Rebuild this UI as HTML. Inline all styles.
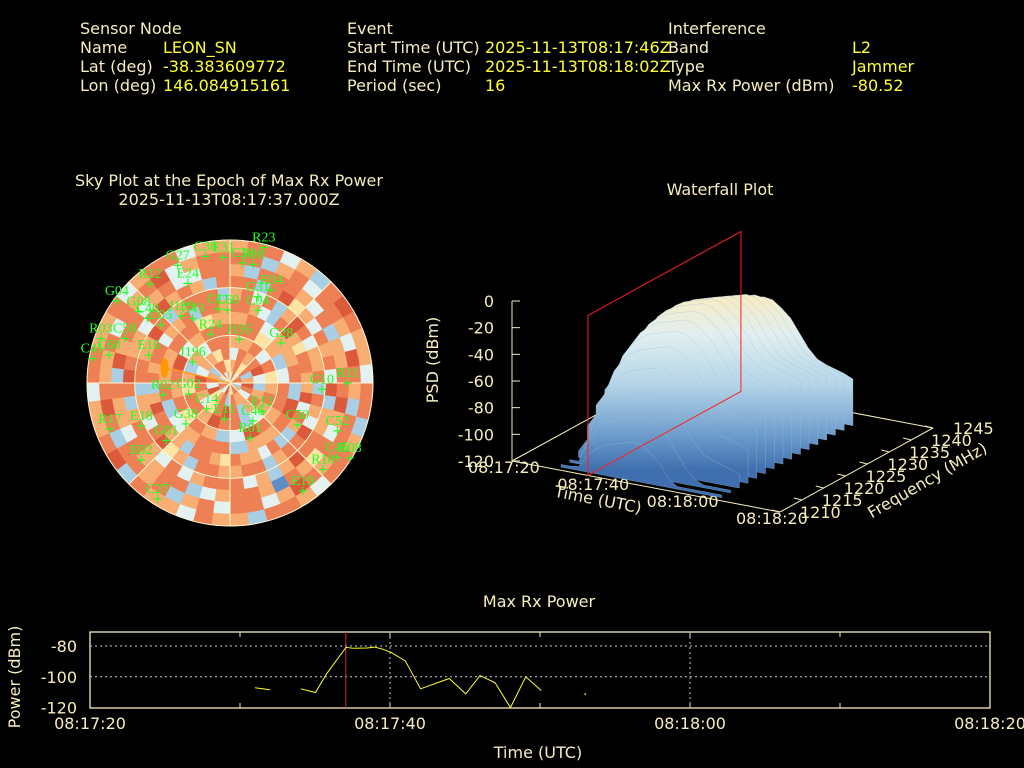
<!DOCTYPE html>
<html><head><meta charset="utf-8"><style>
html,body{margin:0;padding:0;background:#000;}
svg{display:block;font-family:"DejaVu Sans","Liberation Sans",sans-serif;}
.lb{fill:#f5eebb;font-size:16px;}
.vl{fill:#ffff33;font-size:16px;}
.tk{fill:#f5eebb;font-size:16px;}
.sat{fill:#22ff22;font-family:"Liberation Serif","DejaVu Serif",serif;font-size:14px;text-anchor:middle;}
</style></head><body>
<svg id="root" width="1024" height="768" viewBox="0 0 1024 768">
<defs>
<linearGradient id="surfGrad" gradientUnits="userSpaceOnUse" x1="0" y1="300" x2="0" y2="470">
<stop offset="0" stop-color="#f6ecc8"/><stop offset="0.2" stop-color="#e2eff0"/><stop offset="0.5" stop-color="#b4d4e8"/><stop offset="0.8" stop-color="#6c9bcb"/><stop offset="1" stop-color="#3f6fae"/>
</linearGradient>
</defs>
<g>
<text class="lb" x="80" y="34">Sensor Node</text>
<text class="lb" x="80" y="53">Name</text>
<text class="vl" x="163" y="53">LEON_SN</text>
<text class="lb" x="80" y="72">Lat (deg)</text>
<text class="vl" x="163" y="72">-38.383609772</text>
<text class="lb" x="80" y="91">Lon (deg)</text>
<text class="vl" x="163" y="91">146.084915161</text>
<text class="lb" x="347" y="34">Event</text>
<text class="lb" x="347" y="53">Start Time (UTC)</text>
<text class="vl" x="485" y="53">2025-11-13T08:17:46Z</text>
<text class="lb" x="347" y="72">End Time (UTC)</text>
<text class="vl" x="485" y="72">2025-11-13T08:18:02Z</text>
<text class="lb" x="347" y="91">Period (sec)</text>
<text class="vl" x="485" y="91">16</text>
<text class="lb" x="668" y="34">Interference</text>
<text class="lb" x="668" y="53">Band</text>
<text class="vl" x="852" y="53">L2</text>
<text class="lb" x="668" y="72">Type</text>
<text class="vl" x="852" y="72">Jammer</text>
<text class="lb" x="668" y="91">Max Rx Power (dBm)</text>
<text class="vl" x="852" y="91">-80.52</text>
</g>
<text class="lb" x="229" y="186" text-anchor="middle">Sky Plot at the Epoch of Max Rx Power</text>
<text class="lb" x="229" y="205" text-anchor="middle">2025-11-13T08:17:37.000Z</text>
<text class="lb" x="720" y="195" text-anchor="middle">Waterfall Plot</text>
<text class="lb" x="539" y="607" text-anchor="middle">Max Rx Power</text>
<g id="sky"></g>
<g id="wf"></g>
<g id="pw"></g>
</svg>
<script>
var NS="http://www.w3.org/2000/svg";
function mk(tag,at,par){var e=document.createElementNS(NS,tag);for(var k in at)e.setAttribute(k,at[k]);par.appendChild(e);return e;}

/* ---------- Sky plot data ---------- */
var skyRings=[
"463566325664573266524635",
"564625763556265473652664",
"365673256526764356735546",
"556364565326675664525366",
"664523665673256465673566",
"563556276552665326556645"
];
var skyRingsOuter=[
"665326754665573652263556456625566752656635562665",
"563625763556265376652665566254763552665576256662",
"662674536563725566752536665363566526765536756526",
"526665362556675364561566532665563556275663563366",
"662563665376526665675366365265662676556365673566",
"566352676553662566356625563556276553665563566355"
];
var skyColors=["#2f5fa6","#5d8fc6","#a9cfe5","#e3f2f1","#fde3a4","#f8ad72","#ee8055","#dc5a3c"];
var satNames=["G27","C38","E31","C30","E08","R12","E24","E04","G31","C11","C60","C04","G04","G08","C40","C05","J199","C43","R24","J195","G28","R03","C58","C41","C60","E16","J196","G02","R02","G10","R11","C14","E11","C46","E12","C50","C52","R01","R17","G01","G38","E18","E02","C27","R10","C45","R08","E19","R23"];
var satAz=[336,349,357,6,11,321,337,24,18,351,358,21,306,308,308,310,324,330,338,12,52,289,293,280,283,289,299,255,260,94,90,222,189,149,132,122,114,160,249,228,227,244,229,212,133,125,122,146,14];
var satEl=[9,9,11,14,14,10,22,26,33,43,44,41,2,17,24,33,38,43,57,62,49,4,18,2,12,36,63,63,47,32,16,68,67,62,63,40,16,53,9,36,52,28,16,4,10,8,1,8,2];

(function(){
var g=document.getElementById('sky');var cx=230,cy=383,R=143;
function pol(r,a){var t=a*Math.PI/180;return [cx+r*Math.sin(t),cy-r*Math.cos(t)];}
function cell(r0,r1,a0,a1,col){var p1=pol(r0,a0),p2=pol(r1,a0),p3=pol(r1,a1),p4=pol(r0,a1);
 var e=mk('path',{d:'M'+p1+'L'+p2+'A'+r1+' '+r1+' 0 0 1 '+p3+'L'+p4+'A'+r0+' '+r0+' 0 0 0 '+p1+'Z',fill:col,stroke:col,'stroke-width':0.6},g);
 
 }
var nIn=skyRings.length, dr=(R/2)/nIn;
for(var i=0;i<nIn;i++){var s=skyRings[i],n=s.length;for(var j=0;j<n;j++)cell(i*dr,(i+1)*dr,j*360/n,(j+1)*360/n,skyColors[+s[j]]);}
var nOut=skyRingsOuter.length, dr2=(R/2)/nOut;
for(i=0;i<nOut;i++){s=skyRingsOuter[i];n=s.length;for(j=0;j<n;j++)cell(R/2+i*dr2,R/2+(i+1)*dr2,j*360/n,(j+1)*360/n,skyColors[+s[j]]);}
[R/3,2*R/3,R].forEach(function(r){var c=mk('circle',{cx:cx,cy:cy,r:r,fill:'none',stroke:'#fff6d0','stroke-width':1},g);
 
 });
for(var a=0;a<360;a+=45){var p=pol(R,a);var l=mk('line',{x1:cx,y1:cy,x2:p[0],y2:p[1],stroke:'#fff6d0','stroke-width':1},g);
 
 }
var op=pol(R*0.47,283);
var ol=mk('line',{x1:cx,y1:cy,x2:op[0],y2:op[1],stroke:'#ff9900','stroke-width':1},g);


var ow=mk('ellipse',{cx:op[0],cy:op[1],rx:4,ry:10,fill:'#ff9900'},g);


for(i=0;i<satNames.length;i++){var pp=pol(R*(1-satEl[i]/90),satAz[i]);
 var m=mk('text',{x:pp[0],y:pp[1]+4,fill:'#22ff22','font-size':'13px','text-anchor':'middle'},g);m.textContent='+';
 
 
 var t=mk('text',{x:pp[0],y:pp[1]-6,'class':'sat'},g);t.textContent=satNames[i];
 
 }
})();

/* ---------- Waterfall data ---------- */
var wfTimes=[10,12,14,16,18,20,22,24,26,28,30,32,34,36,38,40,42,44,46];
var wfPeak=[-70,-60,-42,-32,-26,-22,-20,-18,-16,-17,-22,-28,-38,-48,-55,-58,-60,-62,-65];
var wfFreqs=[1211,1213,1215,1217,1219,1221,1223,1225,1227,1229,1231,1233,1235,1237,1239,1241];
var wfShape=[-75,-60,-45,-30,-18,-10,-5,-2,0,0,-2,-5,-8,-11,-15,-20];
var wfZTicks=[0,-20,-40,-60,-80,-100,-120];
var wfTimeTicks=["08:17:20","08:17:40","08:18:00","08:18:20"];
var wfFreqTicks=[1210,1215,1220,1225,1230,1235,1240,1245];
var wfRedTime=17;

(function(){
var g=document.getElementById('wf');
var O=[512,461],TV=[268,51],FV=[153,-84];
function P(t,f,z){var a=t/60,b=(f-1210)/35;return [O[0]+a*TV[0]+b*FV[0],O[1]+a*TV[1]+b*FV[1]-(z+120)*160/120];}
var BR=P(60,1210,-120),BK=P(60,1245,-120),BL=P(0,1245,-120);
function ln(a,b,col,name){var l=mk('line',{x1:a[0],y1:a[1],x2:b[0],y2:b[1],stroke:col,'stroke-width':1},g);
 
 }
ln(O,BR,'#f5eebb','time-axis');ln(BR,BK,'#f5eebb','frequency-axis');ln(BK,BL,'#f5eebb','back-base-edge');ln(O,BL,'#f5eebb','left-base-edge');
var zt=P(0,1210,0);ln(O,zt,'#f5eebb','psd-axis');
wfZTicks.forEach(function(z){var p=P(0,1210,z);ln(p,[p[0]+8,p[1]],'#f5eebb','psd-tick');
 var t=mk('text',{x:p[0]-18,y:p[1]+6,'class':'tk','text-anchor':'end'},g);t.textContent=z;
 
 });
wfTimeTicks.forEach(function(s,i){var p=P(i*20,1210,-120);
 var t=mk('text',{x:p[0]-44,y:p[1]+12,'class':'tk'},g);t.textContent=s;
 
 });
wfFreqTicks.forEach(function(f){var p=P(60,f,-120);ln(p,[p[0]-8,p[1]-2],'#f5eebb','frequency-tick');
 var t=mk('text',{x:p[0]+20,y:p[1]+6,'class':'tk'},g);t.textContent=f;
 
 });
var xl=mk('text',{x:597,y:505,'class':'tk','text-anchor':'middle',transform:'rotate(11 597 505)'},g);xl.textContent='Time (UTC)';


var fl=mk('text',{x:930,y:485,'class':'tk','text-anchor':'middle',transform:'rotate(-30 930 485)'},g);fl.textContent='Frequency (MHz)';


var yl=mk('text',{x:438,y:360,'class':'tk','text-anchor':'middle',transform:'rotate(-90 438 360)'},g);yl.textContent='PSD (dBm)';


for(var k=wfFreqs.length-1;k>=0;k--){var f=wfFreqs[k];var pts=[];
 for(var i=0;i<wfTimes.length;i++){var z=Math.max(-118,wfPeak[i]+wfShape[k]);pts.push(P(wfTimes[i],f,z));}
 var d='M'+P(wfTimes[0],f,-120);pts.forEach(function(p){d+='L'+p;});d+='L'+P(wfTimes[wfTimes.length-1],f,-120)+'Z';
 var s=mk('path',{d:d,fill:'url(#surfGrad)',stroke:'#9cc0dc','stroke-width':0.3},g);
 
 }
var r1=P(wfRedTime,1210,-120),r2=P(wfRedTime,1245,-120),r3=P(wfRedTime,1245,0),r4=P(wfRedTime,1210,0);
var rp=mk('path',{d:'M'+r1+'L'+r2+'L'+r3+'L'+r4+'Z',fill:'none',stroke:'#ff2020','stroke-width':1},g);


})();

/* ---------- Max Rx Power data ---------- */
var pwSeg1T=[11.0,12.0];
var pwSeg1V=[-107.1,-108.4];
var pwSeg2T=[14.05,15.03,15.79,17.07,17.57,18.47,18.98,19.49,20.05,21.02,22.04,23.95,25.05,26.0,27.0,28.03,29.05,30.08];
var pwSeg2V=[-107.8,-110.2,-97.8,-80.9,-81.5,-81.3,-80.7,-82.0,-84.0,-89.7,-107.8,-101.1,-111.1,-99.2,-103.8,-120,-100.0,-108.9];
var pwDotT=[33.0];
var pwDotV=[-111];
var pwYTicks=[-80,-100,-120];
var pwXTicks=["08:17:20","08:17:40","08:18:00","08:18:20"];
var pwEpoch=17.05;

(function(){
var g=document.getElementById('pw');var L=90,Rr=990,T=632,B=708;
function X(t){return L+(Rr-L)*t/60;}function Y(v){return T+14+(v+80)*-1.54;}
function ln(x1,y1,x2,y2,st,name,dash){var a={x1:x1,y1:y1,x2:x2,y2:y2,stroke:st,'stroke-width':1};if(dash)a['stroke-dasharray']=dash;var l=mk('line',a,g);
 
 }
var fr=mk('rect',{x:L,y:T,width:Rr-L,height:B-T,fill:'none',stroke:'#f5eebb','stroke-width':1.3},g);


pwYTicks.forEach(function(v){var y=Y(v);if(v>-120)ln(L,y,Rr,y,'#cccccc','y-grid-line','2,3');
 var t=mk('text',{x:77,y:y+6,'class':'tk','text-anchor':'end'},g);t.textContent=v;
 
 });
for(var s=10;s<60;s+=10){ln(X(s),T,X(s),T+5,'#f5eebb','x-tick');ln(X(s),B,X(s),B-5,'#f5eebb','x-tick');
 if(s%20==0)ln(X(s),T,X(s),B,'#cccccc','x-grid-line','2,3');}
pwXTicks.forEach(function(s,i){var t=mk('text',{x:X(i*20),y:729,'class':'tk','text-anchor':'middle'},g);t.textContent=s;
 
 });
ln(X(pwEpoch),T,X(pwEpoch),B,'#c83030','epoch-marker');
function pl(ts,vs,name){var d='';for(var i=0;i<ts.length;i++)d+=(i?'L':'M')+X(ts[i])+' '+Y(vs[i]);
 var p=mk('path',{d:d,fill:'none',stroke:'#ffff33','stroke-width':1},g);
 
 }
pl(pwSeg1T,pwSeg1V,'power-line-segment-1');pl(pwSeg2T,pwSeg2V,'power-line-segment-2');
pwDotT.forEach(function(t,i){var c=mk('rect',{x:X(t)-0.5,y:Y(pwDotV[i])-0.5,width:1.5,height:1.5,fill:'#ffff33'},g);
 
 });
var xt=mk('text',{x:538,y:758,'class':'tk','text-anchor':'middle'},g);xt.textContent='Time (UTC)';


var yt=mk('text',{x:20,y:677,'class':'tk','text-anchor':'middle',transform:'rotate(-90 20 677)'},g);yt.textContent='Power (dBm)';


})();
</script>
</body></html>
